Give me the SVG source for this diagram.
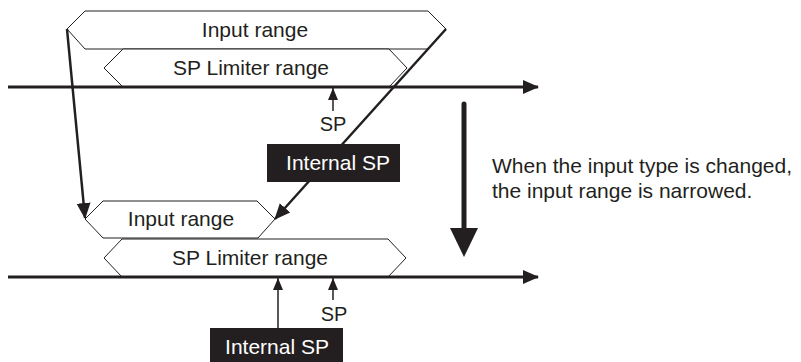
<svg xmlns="http://www.w3.org/2000/svg" width="801" height="362" viewBox="0 0 801 362">
<style>
.t{font-family:"Liberation Sans",Arial,sans-serif;font-size:21px;fill:#231f20;text-anchor:middle}
.w{fill:#ffffff}
.hex{fill:#ffffff;stroke:#231f20;stroke-width:1}
.ln{stroke:#231f20;fill:none}
.box{fill:#231f20}
</style>
<defs>
<marker id="ah" markerUnits="userSpaceOnUse" markerWidth="16" markerHeight="16" viewBox="0 0 16 16" refX="15" refY="8" orient="auto">
<path d="M0,1 L16,8 L0,15 Z" fill="#231f20"/>
</marker>
<marker id="as" markerUnits="userSpaceOnUse" markerWidth="12" markerHeight="12" viewBox="0 0 12 12" refX="12" refY="6" orient="auto">
<path d="M0,1 L12,6 L0,11 Z" fill="#231f20"/>
</marker>
</defs>
<g id="ranges">
<g id="top-input-range"><polygon class="hex" points="67,29 85,11 428,11 446,29 428,49 85,49"/><text class="t" x="255" y="37">Input range</text></g>
<g id="top-sp-limiter"><polygon class="hex" points="104,68 123,49 389,49 407,68 389,87 123,87"/><text class="t" x="251" y="75">SP Limiter range</text></g>
<g id="bottom-input-range"><polygon class="hex" points="85,219 103,201 257,201 275,219 258,238 103,238"/><text class="t" x="181" y="226">Input range</text></g>
<g id="bottom-sp-limiter"><polygon class="hex" points="104,258 122,239 388,239 406,258 388,277 122,277"/><text class="t" x="250" y="265">SP Limiter range</text></g>
</g>
<g id="connectors">
<line class="ln" x1="8" y1="87" x2="538" y2="87" stroke-width="3" marker-end="url(#ah)"/>
<line class="ln" x1="8" y1="277" x2="538" y2="277" stroke-width="3" marker-end="url(#ah)"/>
<line class="ln" x1="67" y1="29" x2="85" y2="218" stroke-width="2.5" marker-end="url(#ah)"/>
<line class="ln" x1="446" y1="29" x2="275" y2="219" stroke-width="2.5" marker-end="url(#ah)"/>
<line class="ln" x1="333" y1="111" x2="333" y2="88" stroke-width="1.5" marker-end="url(#as)"/>
<line class="ln" x1="333" y1="300" x2="333" y2="278" stroke-width="1.5" marker-end="url(#as)"/>
<line class="ln" x1="278" y1="328" x2="278" y2="278" stroke-width="1.5" marker-end="url(#as)"/>
<line class="ln" x1="464" y1="104" x2="464" y2="230" stroke-width="5" stroke-linecap="round"/>
<polygon points="450,228 478,228 464,257" fill="#231f20"/>
</g>
<g id="top-sp"><text class="t" x="333" y="131" style="font-size:20px">SP</text></g>
<g id="top-internal-sp"><rect class="box" x="267" y="144" width="133" height="38"/><text class="t w" x="338" y="170">Internal SP</text></g>
<g id="bottom-sp"><text class="t" x="334" y="321" style="font-size:20px">SP</text></g>
<g id="bottom-internal-sp"><rect class="box" x="210" y="328" width="133" height="34"/><text class="t w" x="277" y="354">Internal SP</text></g>
<g id="note">
<text class="t" x="492" y="173" style="text-anchor:start">When the input type is changed,</text>
<text class="t" x="492" y="198" style="text-anchor:start">the input range is narrowed.</text>
</g>
</svg>
